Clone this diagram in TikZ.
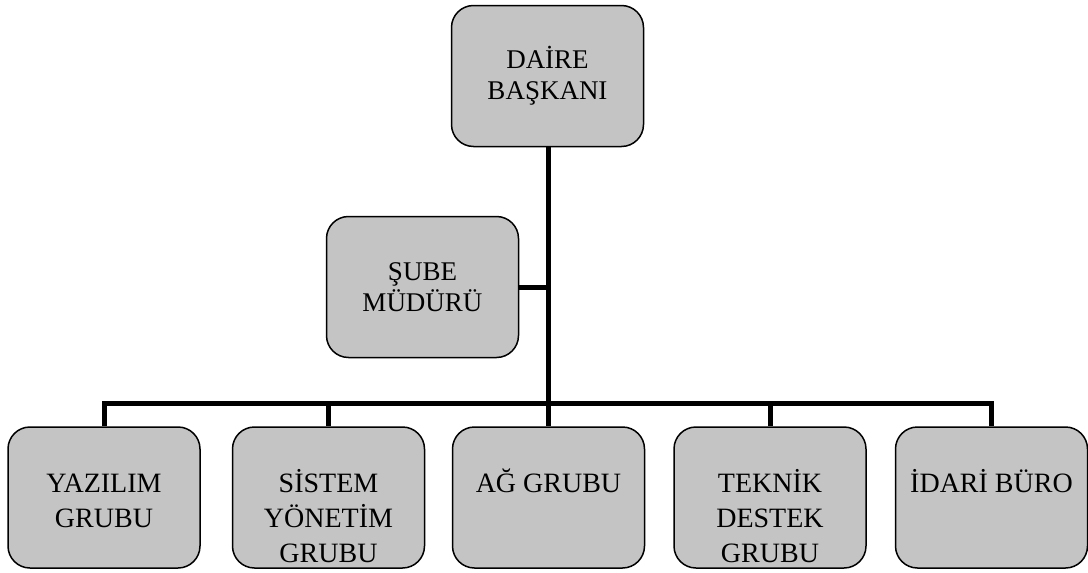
\documentclass[tikz,border=0pt]{standalone}
\usepackage{fontspec}
\setmainfont{Liberation Serif}
\definecolor{boxgray}{RGB}{196,196,196}
\begin{document}
\begin{tikzpicture}[x=1pt,y=-1pt,
  orgbox/.style={draw=black, line width=1.5pt, fill=boxgray, rounded corners=22pt,
    minimum width=192pt, minimum height=141pt, inner sep=0pt},
  toptext/.style={align=center, font=\fontsize{27}{31}\selectfont},
  bottext/.style={align=center, font=\fontsize{28}{35}\selectfont, inner sep=0pt, anchor=north},
  link/.style={line width=5pt, black}]
\useasboundingbox (0,0) rectangle (1088,573);
% top boxes
\node[orgbox, toptext] (daire) at (547.5,76) {DAİRE\\BAŞKANI};
\node[orgbox, toptext] (sube) at (422.5,287) {ŞUBE\\MÜDÜRÜ};
% bottom boxes
\node[orgbox] (b1) at (104,497.5) {};
\node[orgbox] (b2) at (328.5,497.5) {};
\node[orgbox] (b3) at (548.5,497.5) {};
\node[orgbox] (b4) at (770,497.5) {};
\node[orgbox] (b5) at (991.5,497.5) {};
\node[bottext] (t1) at ([yshift=-41.5pt]b1.north) {\strut YAZILIM\\GRUBU};
\node[bottext] (t2) at ([yshift=-41.5pt]b2.north) {\strut SİSTEM\\YÖNETİM\\GRUBU};
\node[bottext] (t3) at ([yshift=-41.5pt]b3.north) {\strut AĞ GRUBU};
\node[bottext] (t4) at ([yshift=-41.5pt]b4.north) {\strut TEKNİK\\DESTEK\\GRUBU};
\node[bottext] (t5) at ([yshift=-41.5pt]b5.north) {\strut İDARİ BÜRO};
% connectors
\coordinate (busL) at (b1.north |- 0,403);
\coordinate (busR) at (b5.north |- 0,403);
\coordinate (busM) at (548.5,403);
\coordinate (subeJ) at (548.5,287);
\draw[link] (daire.south -| busM) -- (busM);
\draw[link] (sube.east) -- (subeJ);
\draw[link, line cap=rect] (busL) -- (busR);
\draw[link] (busL) -- (b1.north);
\draw[link] (b2.north |- busL) -- (b2.north);
\draw[link] (b3.north |- busL) -- (b3.north);
\draw[link] (b4.north |- busL) -- (b4.north);
\draw[link] (busR) -- (b5.north);
\end{tikzpicture}
\end{document}
